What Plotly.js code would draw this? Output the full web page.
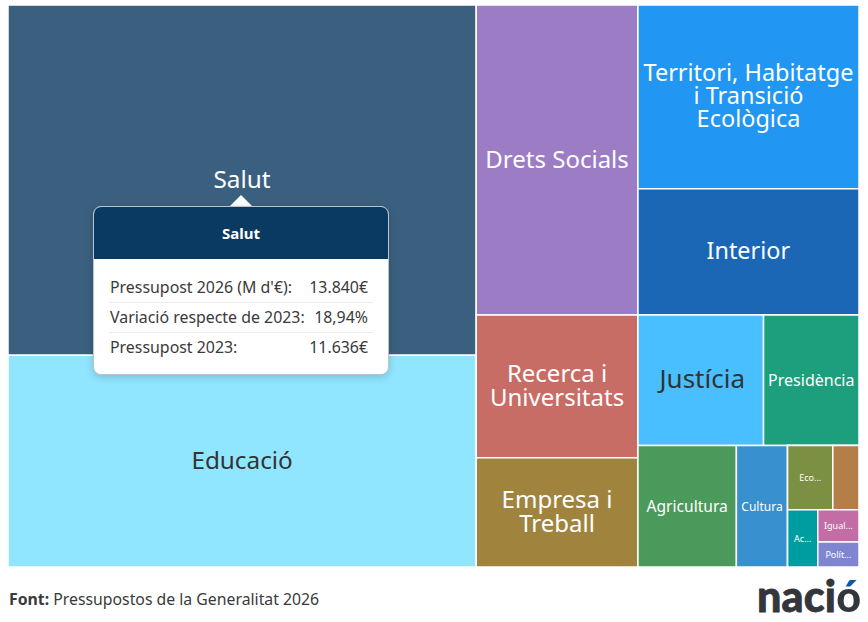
<!DOCTYPE html>
<html>
<head>
<meta charset="utf-8">
<script src="https://cdn.plot.ly/plotly-3.0.1.min.js"></script>
<style>
html,body{margin:0;padding:0;background:#fff;overflow:hidden;width:868px;height:622px}
body{font-family:"Noto Sans",sans-serif;color:#3a3a3a;position:relative}
#chart{position:absolute;left:0;top:0;width:868px;height:622px}
#arrow{position:absolute;left:230px;top:195px;width:0;height:0;border-left:11px solid transparent;border-right:11px solid transparent;border-bottom:11px solid #fff}
#tip{position:absolute;left:93px;top:206px;width:294px;height:167px;background:#fff;border:1px solid #b9c6d2;border-radius:8px;box-shadow:0 2px 8px rgba(0,0,0,.18);overflow:hidden}
#tipHead{height:52px;line-height:52px;background:#0a3a62;color:#fff;text-align:center;font-weight:700;font-size:15px}
#tipRows{position:absolute;left:15px;right:15px;top:66px}
.row{display:flex;justify-content:space-between;height:29px;line-height:29px;font-size:15.9px;padding:0 5px 0 1px;border-bottom:1px solid #ececec;box-sizing:content-box;white-space:nowrap}
.row:last-child{border-bottom:none}
#source{position:absolute;left:9px;top:589px;font-size:15.8px;line-height:20px;white-space:nowrap}
#logo{position:absolute;left:757px;top:571px;font-family:Lato,sans-serif;font-weight:900;font-size:43px;line-height:50px;letter-spacing:.2px;color:#33363b;white-space:nowrap;-webkit-text-stroke:.8px #33363b}
#logo span{background:linear-gradient(#0b57a8 0 36%,#33363b 36%);-webkit-background-clip:text;background-clip:text;color:transparent;-webkit-text-stroke:0}
</style>
</head>
<body>
<div id="chart"></div>
<div id="arrow"></div>
<div id="tip"><div id="tipHead"></div><div id="tipRows"></div></div>
<div id="source"><b>Font:</b> Pressupostos de la Generalitat 2026</div>
<div id="logo">naci<span>ó</span></div>
<script>
// Nodes: root, layout groups and departments, in drawing order
var ids = ["root","colA","Salut","Educacio","colB","Drets","Recerca","Empresa","colC","Territori","Interior",
  "rowJ","Justicia","Presidencia","rowA","Agricultura","Cultura","blockE","rowE","Economia","Altres",
  "rowF","Accio","stackI","Igualtat","Politiques"];
var parents = ["","root","colA","colA","root","colB","colB","colB","root","colC","colC",
  "colC","rowJ","rowJ","colC","rowA","rowA","rowA","blockE","rowE","rowE",
  "blockE","rowF","rowF","stackI","stackI"];
var labels = ["","","Salut","Educació","","Drets Socials","Recerca i<br>Universitats","Empresa i<br>Treball","",
  "Territori, Habitatge<br>i Transició<br>Ecològica","Interior",
  "","Justícia","Presidència","","Agricultura","Cultura","","","Eco...","",
  "","Ac...","","Igual...","Polít..."];
var values = [0,0,13840,8367,0,4234,1946,1493,0,3426,2359,
  0,1383,1051,0,1009,525,0,0,245,142,
  0,146,0,112,87];
var colors = ["#fff","#fff","#3b607f","#91e6ff","#fff","#9c7cc4","#c76d65","#a0843e","#fff","#2196f3","#1b67b5",
  "#fff","#4abfff","#1d9e7c","#fff","#4b995b","#3890cf","#fff","#fff","#7b9042","#b57e48",
  "#fff","#009da0","#fff","#c26da6","#7f86cf"];
var textColors = ["#fff","#fff","#fff","#333","#fff","#fff","#fff","#fff","#fff","#fff","#fff",
  "#fff","#333","#fff","#fff","#fff","#fff","#fff","#fff","#fff","#fff",
  "#fff","#fff","#fff","#fff","#fff"];
var textSizes = [10,10,24.3,24.3,10,24,24,24,10,23.5,23.4,
  10,26,16,10,15.6,12,10,10,9,9,
  10,9,10,9,9];

// Tooltip content
var tipTitle = "Salut";
var tipLabels = ["Pressupost 2026 (M d'€):","Variació respecte de 2023:","Pressupost 2023:"];
var tipValues = ["13.840€","18,94%","11.636€"];

document.getElementById("tipHead").textContent = tipTitle;
document.getElementById("tipRows").innerHTML = tipLabels.map(function(l,i){
  return '<div class="row"><span>'+l+'</span><span>'+tipValues[i]+'</span></div>';
}).join("");

var trace = {
  type:"treemap", ids:ids, parents:parents, labels:labels, values:values,
  branchvalues:"remainder", sort:false, textinfo:"label", hoverinfo:"skip",
  textposition:"middle center",
  tiling:{packing:"slice-dice",pad:0},
  pathbar:{visible:false},
  marker:{colors:colors,depthfade:false,pad:{t:0,l:0,r:0,b:0},line:{color:"#fff",width:1.5}},
  leaf:{opacity:1},
  textfont:{family:"Noto Sans, sans-serif",size:textSizes,color:textColors},
  insidetextfont:{family:"Noto Sans, sans-serif",size:textSizes,color:textColors}
};
var layout = {
  width:868,height:622,margin:{l:8,r:9,t:5,b:55,pad:0},
  paper_bgcolor:"#fff",showlegend:false
};
function tighten(){
  document.querySelectorAll("#chart .slicetext text").forEach(function(t){
    var lines=t.querySelectorAll("tspan.line");
    var tr=t.getAttribute("transform")||"";
    var fs=parseFloat(t.style.fontSize)||20;
    t.setAttribute("transform","translate(0,"+(fs>16?-2:0)+") "+tr);
    if(lines.length<2) return;
    var d=0.98;
    lines.forEach(function(l,i){
      l.setAttribute("dy", ((lines.length-1)*(1.3-d)/2 + i*d)+"em");
    });
  });
}
Plotly.newPlot("chart",[trace],layout,{displayModeBar:false,staticPlot:true}).then(tighten);
</script>
</body>
</html>
